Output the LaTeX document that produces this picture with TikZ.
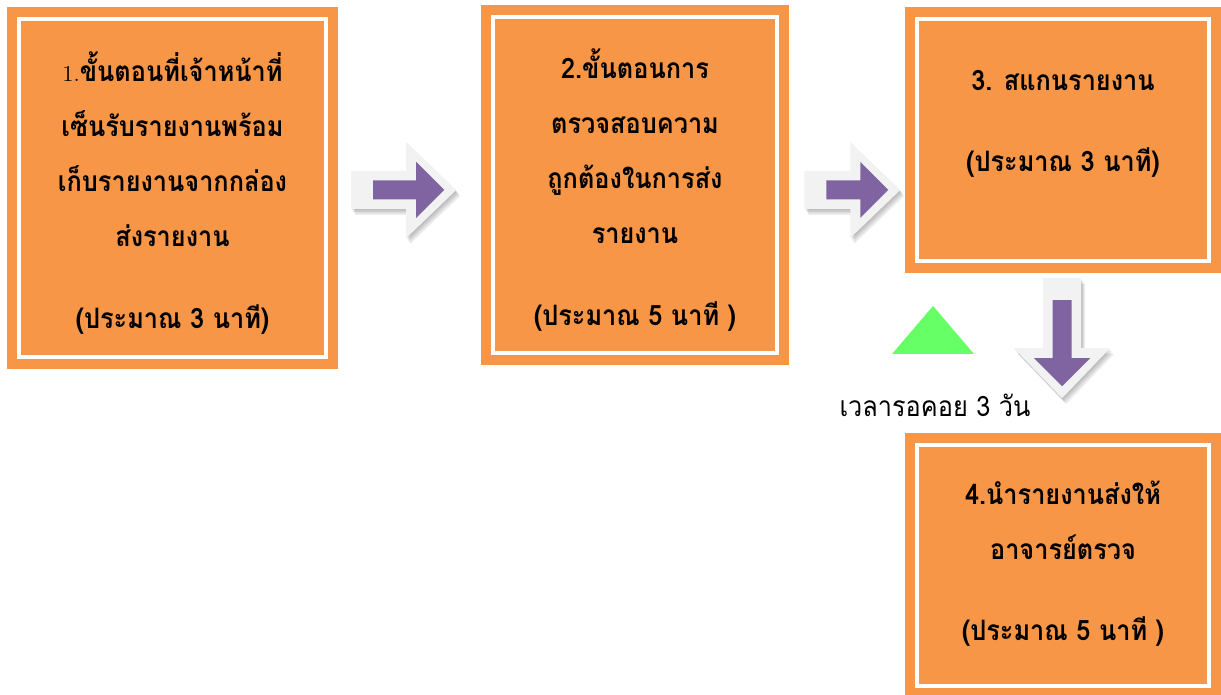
\documentclass[tikz,border=0pt]{standalone}
\usepackage{fontspec}
\newfontfamily\thaifont[Script=Thai, FakeStretch=0.9]{Loma}
\usetikzlibrary{calc}
\usetikzlibrary{positioning}

\definecolor{boxorange}{HTML}{F79646}
\definecolor{arrowpurple}{HTML}{8064A2}
\definecolor{arrowframe}{HTML}{F2F2F2}
\definecolor{waitgreen}{HTML}{66FF66}

\tikzset{
  stepbox/.style={fill=boxorange, draw=white, line width=2pt,
    preaction={draw=boxorange, line width=0.47cm}, inner sep=0pt},
  steptext/.style={align=center, text=black,
    font=\thaifont\bfseries\fontsize{16}{31.3}\selectfont},
  waittext/.style={text=black, font=\thaifont\fontsize{16}{20}\selectfont},
  arrowshadow/.style={fill=black, opacity=0.07},
  pics/blockarrow/.style n args={3}{code={
    % soft shadow
    \foreach \k in {1,...,4}
      \fill[arrowshadow, shift={({\k*#2},{\k*#3})}] (0,0) -- (-50,48) -- (-50,19)
        -- ({-#1-22},19) -- ({-#1-22},-19) -- (-50,-19) -- (-50,-48) -- cycle;
    % light frame
    \fill[arrowframe] (0,0) -- (-50,48) -- (-50,19) -- ({-#1-22},19)
      -- ({-#1-22},-19) -- (-50,-19) -- (-50,-48) -- cycle;
    % purple arrow
    \fill[arrowpurple] (-12,0) -- (-40,28) -- (-40,9.5) -- (-#1,9.5)
      -- (-#1,-9.5) -- (-40,-9.5) -- (-40,-28) -- cycle;
  }}
}

\begin{document}
\begin{tikzpicture}[x=0.02cm,y=-0.02cm]
    \useasboundingbox (0,0) rectangle (1221,695);

    % Step boxes
    \node (b1) [stepbox, minimum width=307*0.02cm, minimum height=338*0.02cm] at (172.5,188) {};
    \node (b2) [stepbox, minimum width=284*0.02cm, minimum height=336*0.02cm] at (635,185) {};
    \node (b3) [stepbox, minimum width=292*0.02cm, minimum height=242*0.02cm] at (1063,140) {};
    \node (b4) [stepbox, minimum width=292*0.02cm, minimum height=241*0.02cm] at (1063,565.5) {};

    % Box texts
    \node (t1) [steptext] at ($(b1.center)+(0,5)$)
      {{\normalfont\mdseries\fontsize{13}{13}\selectfont 1.}ขั้นตอนที่เจ้าหน้าที่\\
       เซ็นรับรายงานพร้อม\\ เก็บรายงานจากกล่อง\\ ส่งรายงาน\\[15pt]
       (ประมาณ 3 นาที)};
    \node (t2) [steptext] at ($(b2.center)+(0,5)$)
      {2.ขั้นตอนการ\\ ตรวจสอบความ\\ ถูกต้องในการส่ง\\ รายงาน\\[15pt]
       (ประมาณ 5 นาที )};
    \node (t3) [steptext] at ($(b3.center)+(0,-16)$)
      {3. สแกนรายงาน\\[15pt] (ประมาณ 3 นาที)};
    \node (t4) [steptext] at ($(b4.center)+(0,-2)$)
      {4.นำรายงานส่งให้\\ อาจารย์ตรวจ\\[15pt] (ประมาณ 5 นาที )};

    % Block arrows between the steps
    \pic at ($(b2.west)+(-35,5)$) {blockarrow={83}{1}{1.5}};
    \pic at ($(b3.west)+(-15,50)$) {blockarrow={74}{1}{1.5}};
    \pic[rotate=-90] at ($(b4.north)+(-1,-45)$) {blockarrow={98}{1.5}{-1}};

    % Waiting time
    \fill[waitgreen] (933,306) -- (892,354) -- (974,354) -- cycle;
    \node (wait) [waittext] at (935,405) {เวลารอคอย 3 วัน};
\end{tikzpicture}
\end{document}
